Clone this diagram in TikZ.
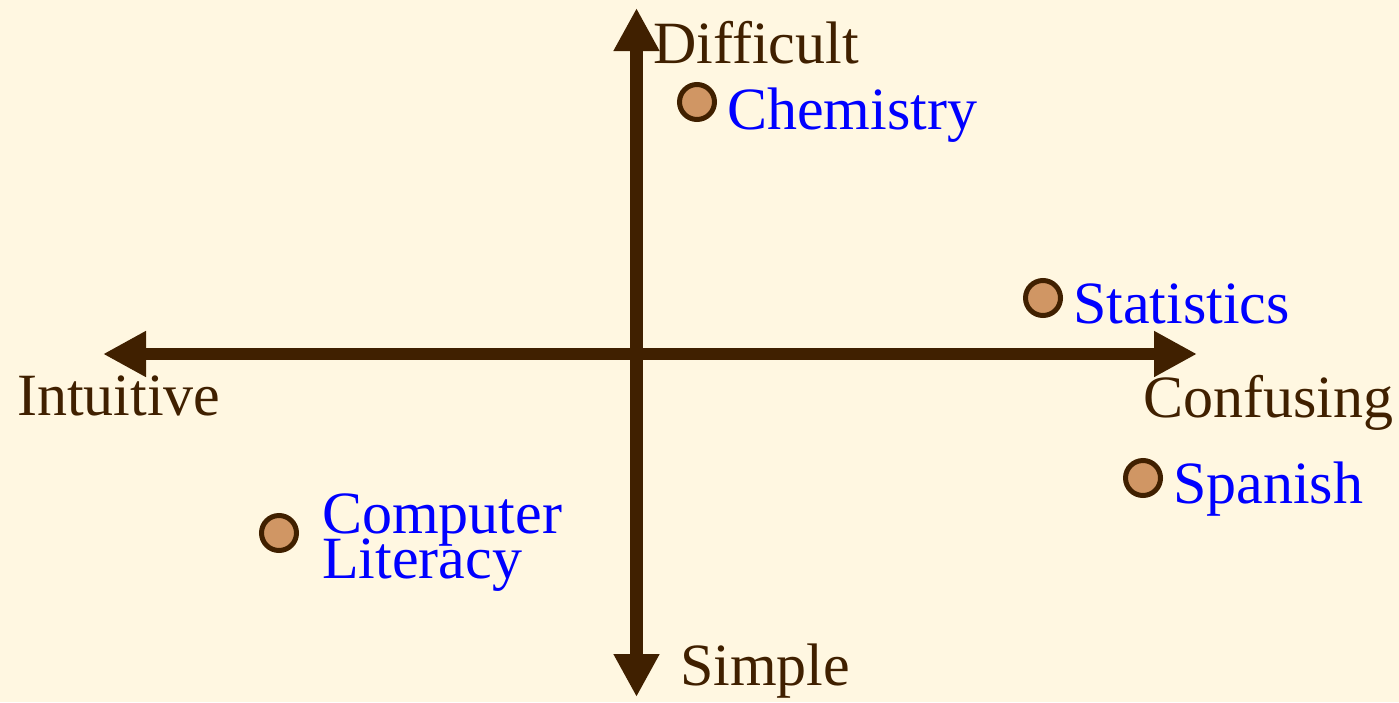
\documentclass[tikz,border=0pt]{standalone}
\usepackage{fontspec}
\setmainfont{Liberation Serif}
\usetikzlibrary{arrows.meta}
\definecolor{cream}{RGB}{255,247,225}
\definecolor{axbrown}{RGB}{64,32,0}
\definecolor{dottan}{RGB}{208,150,100}
\begin{document}
\begin{tikzpicture}[
      x=1pt,y=-1pt,
      every node/.style={font=\fontsize{60}{45}\selectfont,inner sep=0pt},
      ax/.style={draw=axbrown,line width=12.5pt,
        {Triangle[length=43pt,width=43pt]}-{Triangle[length=43pt,width=43pt]}},
      pole/.style={text=axbrown,anchor=base west},
      subj/.style={text=blue,anchor=base west,align=left},
      dot/.style={circle,draw=axbrown,line width=5pt,fill=dottan,minimum size=35pt}
    ]
    % background and page size
    \fill[cream] (0,0) rectangle (1399,702);
    \useasboundingbox (0,0) rectangle (1399,702);
    % axis ends
    \coordinate (top) at (636.5,8); \coordinate (bot) at (636.5,697);
    \coordinate (lft) at (103,354); \coordinate (rgt) at (1197,354);
    \draw[ax] (bot) -- (top);
    \draw[ax] (lft) -- (rgt);
    % axis labels
    \node[pole] (difficult) at (653,63) {Difficult};
    \node[pole] (simple) at (680,685) {Simple};
    \node[pole] (intuitive) at (17,415) {Intuitive};
    \node[pole] (confusing) at (1143,417) {Confusing};
    % subjects
    \node[dot] (chemD) at (697,102) {}; \node[subj] (chem) at (727,129) {Chemistry};
    \node[dot] (statD) at (1043,298) {}; \node[subj] (stat) at (1073,323) {Statistics};
    \node[dot] (spanD) at (1143,478) {}; \node[subj] (span) at (1173,503) {Spanish};
    \node[dot] (compD) at (279,533) {}; \node[subj] (comp) at (322,578) {Computer\\[-9pt]Literacy};
  \end{tikzpicture}
\end{document}
